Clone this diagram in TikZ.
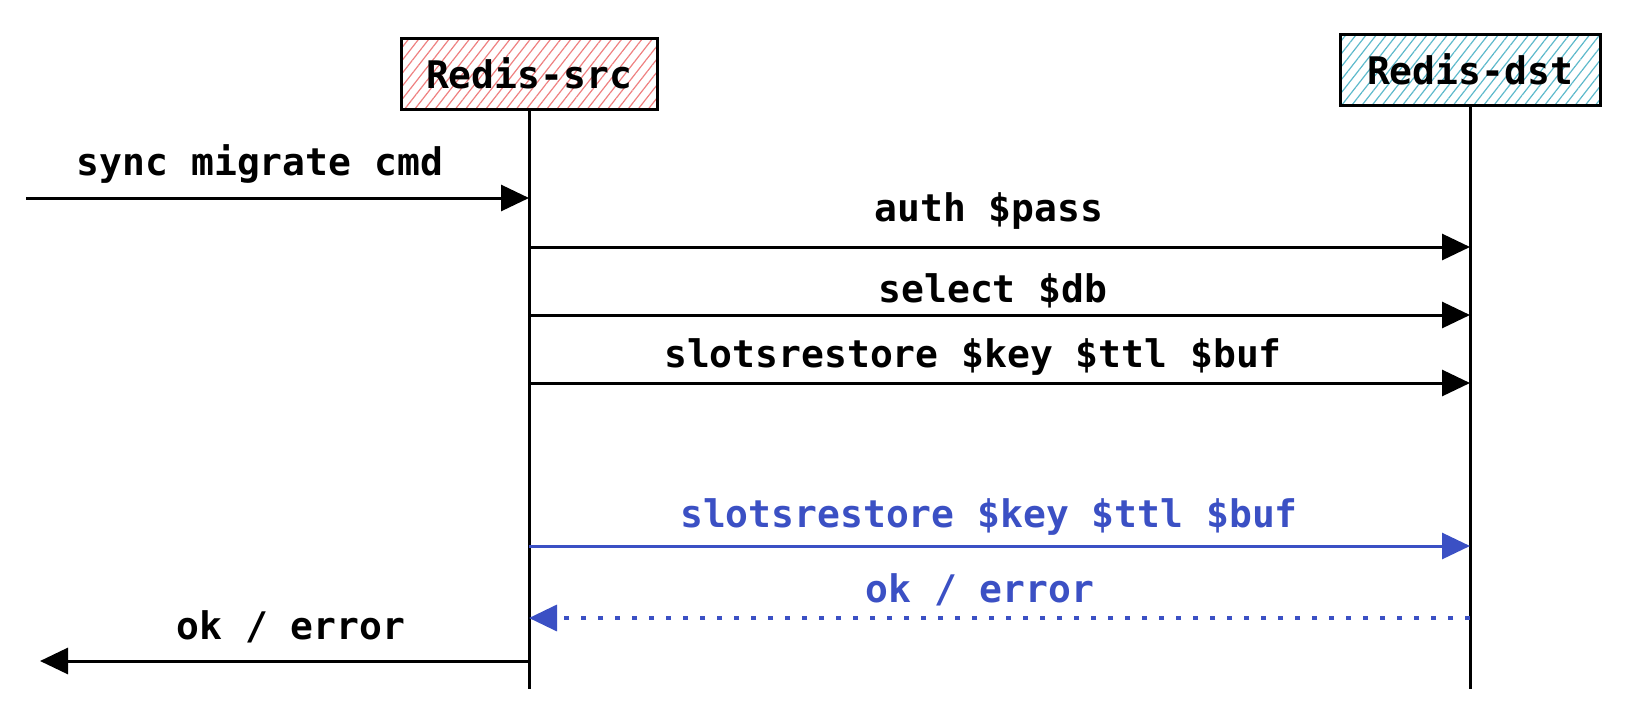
\documentclass[tikz,border=0pt]{standalone}
\usepackage{fontspec}
\setmonofont{DejaVu Sans Mono}
\usetikzlibrary{arrows.meta,patterns.meta}
\definecolor{srcred}{HTML}{EE8080}
\definecolor{dstcyan}{HTML}{5DB9CB}
\definecolor{replyblue}{HTML}{3B50C4}
\tikzset{
    server/.style={draw, line width=3pt, minimum height=71pt, font=\ttfamily\bfseries\fontsize{38}{44}\selectfont},
    lifeline/.style={line width=3pt},
    msg/.style={line width=3pt, -{Triangle[length=28pt,width=26pt]}},
    lbl/.style={anchor=base, inner sep=0pt, font=\ttfamily\bfseries\fontsize{38}{44}\selectfont},
}
\begin{document}
\begin{tikzpicture}[x=1pt,y=-1pt]
            \useasboundingbox (0,0) rectangle (1634,718);
            \node[server, minimum width=256pt, pattern={Lines[angle=52,distance=8pt,line width=1.2pt]}, pattern color=srcred] at (529,73.5) (src) {Redis-src};
            \node[server, minimum width=260pt, pattern={Lines[angle=52,distance=8pt,line width=1.2pt]}, pattern color=dstcyan] at (1470,69.5) (dst) {Redis-dst};
            \coordinate (srcend) at (529,689);
            \coordinate (dstend) at (1470,689);
            \draw[lifeline] (src.south) -- (srcend);
            \draw[lifeline] (dst.south) -- (dstend);
            \foreach \n/\y in {a/247,b/315,c/383,d/546,e/618}{
                \coordinate (s\n) at (529,\y);
                \coordinate (d\n) at (1470,\y);
            }
            \coordinate (client) at (26,198);
            \coordinate (srcin) at (529,198);
            \coordinate (srcout) at (529,661);
            \coordinate (reply) at (40,661);
            % requests
            \draw[msg] (client) -- (srcin);
            \node[lbl] at (260,175) (cmd) {sync migrate cmd};
            \draw[msg] (sa) -- (da);
            \node[lbl] at (989,221) (auth) {auth \$pass};
            \draw[msg] (sb) -- (db);
            \node[lbl] at (993,302) (sel) {select \$db};
            \draw[msg] (sc) -- (dc);
            \node[lbl] at (973,367) (rest) {slotsrestore \$key \$ttl \$buf};
            % last key
            \draw[msg, replyblue] (sd) -- (dd);
            \node[lbl, replyblue] at (989,527) (lastrest) {slotsrestore \$key \$ttl \$buf};
            \draw[msg, replyblue, line width=3.5pt, dash pattern=on 5pt off 12pt] (de) -- (se);
            \node[lbl, replyblue] at (980,602) (ack) {ok / error};
            \draw[msg] (srcout) -- (reply);
            \node[lbl] at (291,639) (res) {ok / error};
        \end{tikzpicture}
\end{document}
